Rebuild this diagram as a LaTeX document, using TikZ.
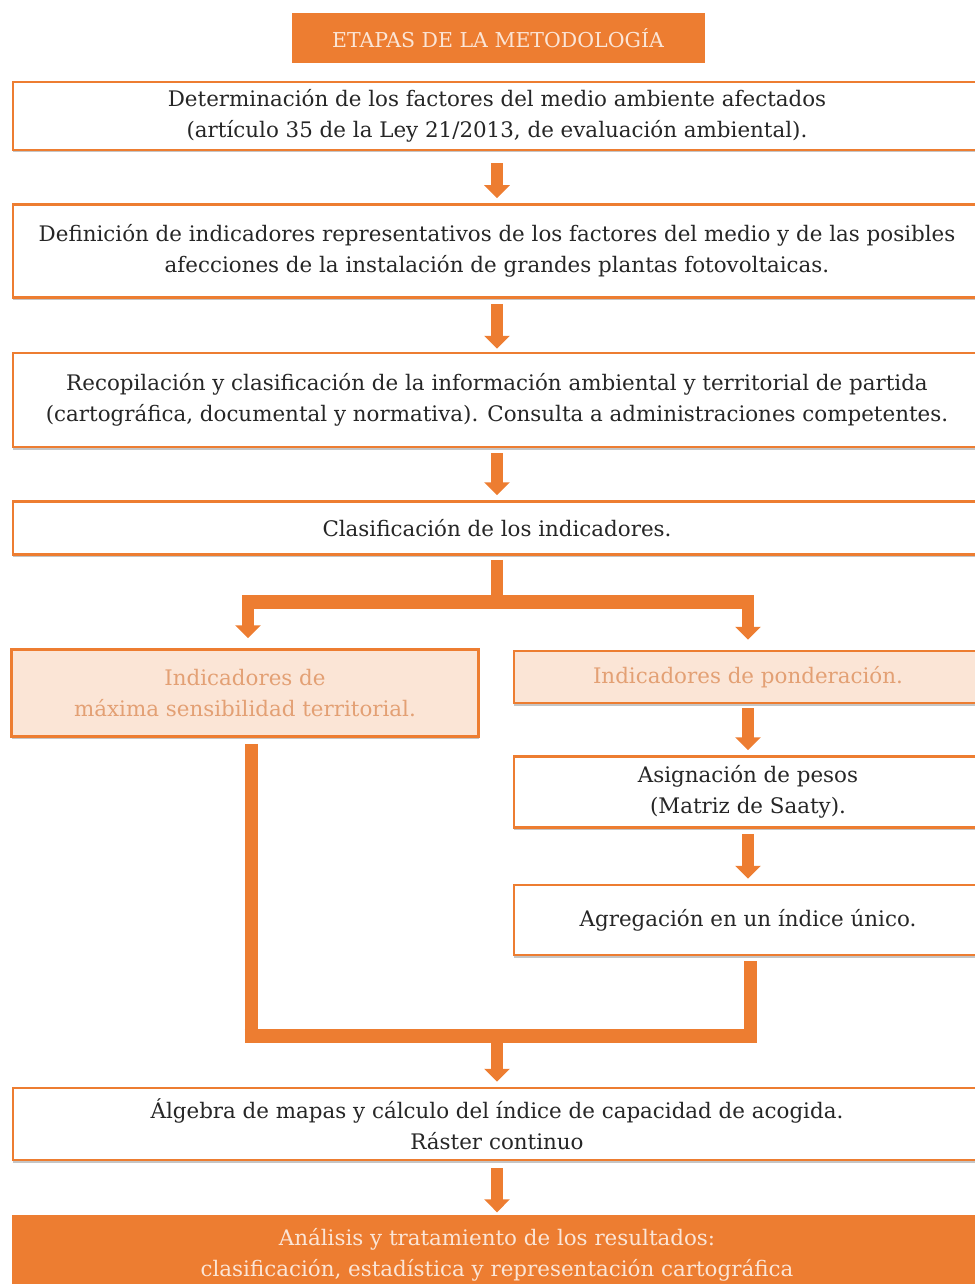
\documentclass[tikz,border=0pt]{standalone}
\usepackage{fontspec}
\setmainfont{DejaVu Serif}
\usetikzlibrary{arrows.meta,shadows}
\definecolor{naranja}{HTML}{ED7D31}
\definecolor{crema}{HTML}{FBE5D6}
\definecolor{tostado}{HTML}{E3A074}
\definecolor{tinta}{HTML}{262626}
\tikzset{
  paso/.style = {draw=naranja, line width=2.5pt, fill=white, text=tinta,
    align=center, inner sep=0pt, font=\fontsize{21.4}{31}\selectfont,
    drop shadow={shadow xshift=0pt, shadow yshift=-2.5pt, fill=black!45}},
  paso_c/.style = {paso, fill=crema, text=tostado},
  paso_n/.style = {fill=naranja, text=crema, align=center, inner sep=0pt,
    font=\fontsize{21.4}{31}\selectfont},
  flecha/.style = {naranja, line width=12pt,
    -{Triangle[width=25pt,length=13pt]}},
  tronco/.style = {naranja, line width=12pt},
  barra/.style = {naranja, line width=14pt}}

\begin{document}
\begin{tikzpicture}[x=1pt,y=-1pt]
\useasboundingbox (0,0) rectangle (974,1284);

% etapas
\node [paso_n, minimum width=413pt, minimum height=50pt,
  font=\fontsize{20.5}{24}\selectfont] (titulo) at (498,38)
  {ETAPAS DE LA METODOLOGÍA};
\node [paso, minimum width=968pt, minimum height=68pt] (determ) at (497,116)
  {Determinación de los factores del medio ambiente afectados\\
   (artículo 35 de la Ley 21/2013, de evaluación ambiental).};
\node [paso, minimum width=968pt, minimum height=93pt] (defin) at (497,251)
  {Definición de indicadores representativos de los factores del medio y de las posibles\\
   afecciones de la instalación de grandes plantas fotovoltaicas.};
\node [paso, minimum width=968pt, minimum height=94pt] (recop) at (497,400)
  {Recopilación y clasificación de la información ambiental y territorial de partida\\
   (cartográfica, documental y normativa). Consulta a administraciones competentes.};
\node [paso, minimum width=968pt, minimum height=53pt] (clasif) at (497,528)
  {Clasificación de los indicadores.};

% ramas
\node [paso_c, minimum width=467pt, minimum height=87pt] (maxsens) at (245,693)
  {Indicadores de\\ máxima sensibilidad territorial.};
\node [paso_c, minimum width=468pt, minimum height=52pt] (ponder) at (748,677)
  {Indicadores de ponderación.};
\node [paso, minimum width=468pt, minimum height=71pt] (saaty) at (748,792)
  {Asignación de pesos\\ (Matriz de Saaty).};
\node [paso, minimum width=468pt, minimum height=70pt] (agreg) at (748,920)
  {Agregación en un índice único.};

% resultado
\node [paso, minimum width=968pt, minimum height=72pt] (algebra) at (497,1124)
  {Álgebra de mapas y cálculo del índice de capacidad de acogida.\\
   Ráster continuo};
\node [paso_n, minimum width=970pt, minimum height=81pt] (final) at (497,1255)
  {Análisis y tratamiento de los resultados:\\
   clasificación, estadística y representación cartográfica};

% flechas
\draw [flecha, shorten <=12pt, shorten >=5pt] (determ) -- (defin);
\draw [flecha, shorten <=5pt, shorten >=3pt] (defin) -- (recop);
\draw [flecha, shorten <=5pt, shorten >=5pt] (recop) -- (clasif);

\coordinate (bifI) at (248,602);
\coordinate (bifD) at (748,602);
\draw [tronco, shorten <=4pt] (clasif.south) -- (clasif.south |- bifI);
\draw [barra] ([xshift=-6pt]bifI) -- ([xshift=6pt]bifD);
\draw [flecha, shorten >=10pt] ([yshift=7pt]bifI) -- (bifI |- maxsens.north);
\draw [flecha, shorten >=10pt] ([yshift=7pt]bifD) -- (ponder);

\draw [flecha, shorten <=4pt, shorten >=5pt] (ponder) -- (saaty);
\draw [flecha, shorten <=5pt, shorten >=5pt] (saaty) -- (agreg);

\coordinate (unI) at (251,1036);
\coordinate (unD) at (750,1036);
\coordinate (unC) at (497,1036);
\draw [tronco, line width=13pt, shorten <=6pt] (unI |- maxsens.south) -- ([yshift=-7pt]unI);
\draw [tronco, line width=13pt, shorten <=5pt] (unD |- agreg.south) -- ([yshift=-7pt]unD);
\draw [barra] ([xshift=-6.5pt]unI) -- ([xshift=6.5pt]unD);
\draw [flecha, shorten >=5pt] (unC) -- (algebra);
\draw [flecha, shorten <=7pt, shorten >=2pt] (algebra) -- (final);
\end{tikzpicture}
\end{document}
